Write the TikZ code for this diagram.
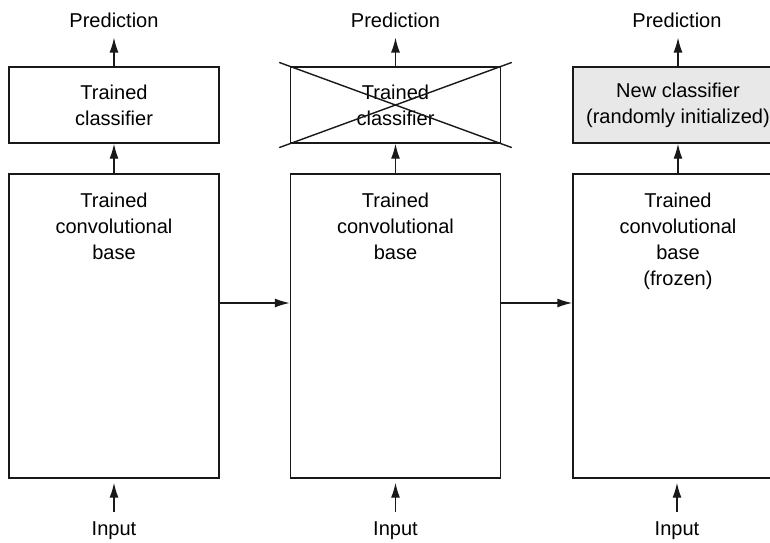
\documentclass[tikz,border=0pt]{standalone}
\usepackage{fontspec}
\setmainfont{Liberation Sans}
\usetikzlibrary{arrows.meta,positioning,calc}

\begin{document}
\begin{tikzpicture}[
    box/.style={rectangle, draw=black!90, line width=0.8pt, fill=white, minimum width=4.2cm, inner sep=0pt},
    clsbox/.style={box, minimum height=1.52cm, align=center, font=\fontsize{11.4}{14.8}\selectfont},
    basebox/.style={box, minimum height=6.08cm},
    txt/.style={font=\fontsize{11.4}{14.8}\selectfont, align=center, inner sep=0pt},
    arr/.style={-{Latex[length=0.3cm,width=0.18cm]}, line width=0.8pt, draw=black!90},
    >=Latex
]
    \clip (0,0) rectangle (15.4,-10.84);

    % Left: original trained model
    \node[clsbox] (clsA) at (2.28,-2.1) {Trained\\classifier};
    \node[basebox] (baseA) at (2.28,-6.52) {};
    \node[txt, anchor=north] (baseAtxt) at ([yshift=-0.38cm]baseA.north) {Trained\\convolutional\\base};
    \node[txt, anchor=base] (predA) at (2.28,-0.54) {Prediction};
    \node[txt, anchor=base] (inA) at (2.28,-10.7) {Input};

    % Middle: classifier thrown away
    \node[clsbox] (clsB) at (7.91,-2.1) {Trained\\classifier};
    \node[basebox] (baseB) at (7.91,-6.52) {};
    \node[txt, anchor=north] (baseBtxt) at ([yshift=-0.38cm]baseB.north) {Trained\\convolutional\\base};
    \node[txt, anchor=base] (predB) at (7.91,-0.54) {Prediction};
    \node[txt, anchor=base] (inB) at (7.91,-10.7) {Input};
    \draw[line width=0.8pt, black!90] ($(clsB.north west)!-0.05!(clsB.south east)$) -- ($(clsB.north west)!1.05!(clsB.south east)$);
    \draw[line width=0.8pt, black!90] ($(clsB.south west)!-0.05!(clsB.north east)$) -- ($(clsB.south west)!1.05!(clsB.north east)$);

    % Right: new classifier on frozen base
    \node[clsbox, fill=gray!18] (clsC) at (13.56,-2.1) {New classifier\\(randomly initialized)};
    \node[basebox] (baseC) at (13.56,-6.52) {};
    \node[txt, anchor=north] (baseCtxt) at ([yshift=-0.38cm]baseC.north) {Trained\\convolutional\\base\\(frozen)};
    \node[txt, anchor=base] (predC) at (13.54,-0.54) {Prediction};
    \node[txt, anchor=base] (inC) at (13.54,-10.7) {Input};

    % Arrows
    \foreach \c in {A,B,C} {
        \draw[arr, shorten >=0.2cm] (cls\c.north) -- (cls\c.north |- pred\c.south);
        \draw[arr] (base\c.north) -- (cls\c.south);
        \draw[arr, shorten <=0.18cm, shorten >=0.08cm] (in\c.north) -- (in\c.north |- base\c.south);
    }
    \draw[arr] ([yshift=0.46cm]baseA.east) -- ([yshift=0.46cm]baseB.west);
    \draw[arr] ([yshift=0.46cm]baseB.east) -- ([yshift=0.46cm]baseC.west);
\end{tikzpicture}
\end{document}
